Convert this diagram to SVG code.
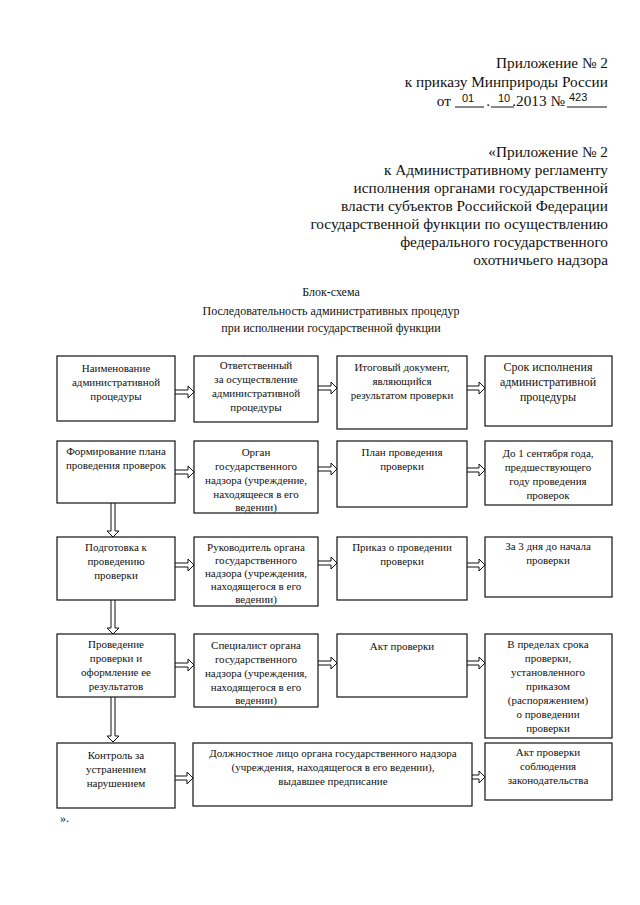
<svg xmlns="http://www.w3.org/2000/svg" width="640" height="905" viewBox="0 0 640 905">
<style>
text{font-family:"Liberation Serif","Times New Roman",serif;fill:#111}
.h{font-size:15.3px;text-anchor:end}
.t{font-size:12px;text-anchor:middle}
.b{font-size:11px;text-anchor:middle}
.hw{font-family:"Liberation Sans",Arial,sans-serif;font-size:11px}
.box{fill:#fff;stroke:#111;stroke-width:1.2}
.arr{fill:#fff;stroke:#111;stroke-width:1}
.ul{stroke:#111;stroke-width:1}
</style>
<rect width="640" height="905" fill="#fff"/>
<g id="header">
<text class="h" x="608" y="68">Приложение № 2</text>
<text class="h" x="608" y="87">к приказу Минприроды России</text>
<text class="h" x="451" y="106">от</text>
<line class="ul" x1="455" y1="107" x2="484" y2="107"/>
<text class="hw" x="462" y="102">01</text>
<text class="h" x="490" y="106">.</text>
<line class="ul" x1="491" y1="107" x2="514" y2="107"/>
<text class="hw" x="498" y="102">10</text>
<text class="h" x="565" y="106">.2013 №</text>
<line class="ul" x1="567" y1="107" x2="607" y2="107"/>
<text class="hw" x="569" y="101">423</text>
</g>
<g id="header2">
<text class="h" x="608" y="157">«Приложение № 2</text>
<text class="h" x="608" y="175">к Административному регламенту</text>
<text class="h" x="608" y="193">исполнения органами государственной</text>
<text class="h" x="608" y="211">власти субъектов Российской Федерации</text>
<text class="h" x="608" y="229">государственной функции по осуществлению</text>
<text class="h" x="608" y="247">федерального государственного</text>
<text class="h" x="608" y="265">охотничьего надзора</text>
</g>
<g id="title">
<text class="t" x="331" y="296">Блок-схема</text>
<text class="t" x="331" y="315">Последовательность административных процедур</text>
<text class="t" x="331" y="332">при исполнении государственной функции</text>
</g>
<g id="connectors">
<path class="arr" d="M175 390H188V386L194 392L188 398V394H175"/>
<path class="arr" d="M318 386H331V382L337 388L331 394V390H318"/>
<path class="arr" d="M467 386H479V382L485 388L479 394V390H467"/>
<path class="arr" d="M175 470H188V466L194 472L188 478V474H175"/>
<path class="arr" d="M318 467H331V463L337 469L331 475V471H318"/>
<path class="arr" d="M467 468H479V464L485 470L479 476V472H467"/>
<path class="arr" d="M175 563H188V559L194 565L188 571V567H175"/>
<path class="arr" d="M318 561H331V557L337 563L331 569V565H318"/>
<path class="arr" d="M467 563H479V559L485 565L479 571V567H467"/>
<path class="arr" d="M175 663H188V659L194 665L188 671V667H175"/>
<path class="arr" d="M318 661H331V657L337 663L331 669V665H318"/>
<path class="arr" d="M467 661H479V657L485 663L479 669V665H467"/>
<path class="arr" d="M175 776H187V772L193 778L187 784V780H175"/>
<path class="arr" d="M472 775H479V771L485 777L479 783V779H472"/>
<path class="arr" d="M111 503V531H107L113 537L119 531H115V503"/>
<path class="arr" d="M111 600V628H107L113 634L119 628H115V600"/>
<path class="arr" d="M111 697V736H107L113 742L119 736H115V697"/>
</g>
<g id="r1c1"><rect class="box" x="57" y="356" width="118" height="65"/>
<text class="b" x="116" y="372">Наименование</text><text class="b" x="116" y="386">административной</text><text class="b" x="116" y="400">процедуры</text></g>
<g id="r1c2"><rect class="box" x="194" y="356" width="124" height="66"/>
<text class="b" x="256" y="369">Ответственный</text><text class="b" x="256" y="383">за осуществление</text><text class="b" x="256" y="397">административной</text><text class="b" x="256" y="411">процедуры</text></g>
<g id="r1c3"><rect class="box" x="337" y="356" width="130" height="73"/>
<text class="b" x="402" y="371">Итоговый документ,</text><text class="b" x="402" y="385">являющийся</text><text class="b" x="402" y="399">результатом проверки</text></g>
<g id="r1c4"><rect class="box" x="485" y="356" width="127" height="70"/>
<text class="t" x="548" y="371">Срок исполнения</text><text class="t" x="548" y="386">административной</text><text class="t" x="548" y="401">процедуры</text></g>
<g id="r2c1"><rect class="box" x="57" y="441" width="118" height="62"/>
<text class="b" x="116" y="455">Формирование плана</text><text class="b" x="116" y="469">проведения проверок</text></g>
<g id="r2c2"><rect class="box" x="194" y="441" width="124" height="72"/>
<text class="b" x="256" y="456">Орган</text><text class="b" x="256" y="470">государственного</text><text class="b" x="256" y="484">надзора (учреждение,</text><text class="b" x="256" y="498">находящееся в его</text><text class="b" x="256" y="511">ведении)</text></g>
<g id="r2c3"><rect class="box" x="337" y="441" width="130" height="66"/>
<text class="b" x="402" y="456">План проведения</text><text class="b" x="402" y="470">проверки</text></g>
<g id="r2c4"><rect class="box" x="485" y="441" width="127" height="64"/>
<text class="b" x="548" y="457">До 1 сентября года,</text><text class="b" x="548" y="471">предшествующего</text><text class="b" x="548" y="485">году проведения</text><text class="b" x="548" y="499">проверок</text></g>
<g id="r3c1"><rect class="box" x="57" y="537" width="118" height="63"/>
<text class="b" x="116" y="551">Подготовка к</text><text class="b" x="116" y="565">проведению</text><text class="b" x="116" y="579">проверки</text></g>
<g id="r3c2"><rect class="box" x="194" y="537" width="124" height="69"/>
<text class="b" x="256" y="551">Руководитель органа</text><text class="b" x="256" y="564">государственного</text><text class="b" x="256" y="577">надзора (учреждения,</text><text class="b" x="256" y="590">находящегося в его</text><text class="b" x="256" y="603">ведении)</text></g>
<g id="r3c3"><rect class="box" x="337" y="537" width="130" height="63"/>
<text class="b" x="402" y="551">Приказ о проведении</text><text class="b" x="402" y="565">проверки</text></g>
<g id="r3c4"><rect class="box" x="485" y="537" width="127" height="60"/>
<text class="b" x="548" y="550">За 3 дня до начала</text><text class="b" x="548" y="564">проверки</text></g>
<g id="r4c1"><rect class="box" x="57" y="634" width="118" height="63"/>
<text class="b" x="116" y="648">Проведение</text><text class="b" x="116" y="662">проверки и</text><text class="b" x="116" y="676">оформление ее</text><text class="b" x="116" y="690">результатов</text></g>
<g id="r4c2"><rect class="box" x="194" y="634" width="124" height="73"/>
<text class="b" x="256" y="649">Специалист органа</text><text class="b" x="256" y="663">государственного</text><text class="b" x="256" y="677">надзора (учреждения,</text><text class="b" x="256" y="691">находящегося в его</text><text class="b" x="256" y="704">ведении)</text></g>
<g id="r4c3"><rect class="box" x="337" y="634" width="130" height="63"/>
<text class="b" x="402" y="650">Акт проверки</text></g>
<g id="r4c4"><rect class="box" x="485" y="634" width="127" height="104"/>
<text class="b" x="548" y="648">В пределах срока</text><text class="b" x="548" y="662">проверки,</text><text class="b" x="548" y="676">установленного</text><text class="b" x="548" y="690">приказом</text><text class="b" x="548" y="704">(распоряжением)</text><text class="b" x="548" y="718">о проведении</text><text class="b" x="548" y="732">проверки</text></g>
<g id="r5c1"><rect class="box" x="57" y="743" width="118" height="65"/>
<text class="b" x="116" y="759">Контроль за</text><text class="b" x="116" y="773">устранением</text><text class="b" x="116" y="787">нарушением</text></g>
<g id="r5c2"><rect class="box" x="193" y="743" width="279" height="63"/>
<text class="b" x="333" y="757">Должностное лицо органа государственного надзора</text><text class="b" x="333" y="771">(учреждения, находящегося в его ведении),</text><text class="b" x="333" y="785">выдавшее предписание</text></g>
<g id="r5c4"><rect class="box" x="485" y="743" width="127" height="57"/>
<text class="b" x="548" y="756">Акт проверки</text><text class="b" x="548" y="770">соблюдения</text><text class="b" x="548" y="784">законодательства</text></g>
<text x="60" y="822" style="font-size:12px">».</text>
</svg>
